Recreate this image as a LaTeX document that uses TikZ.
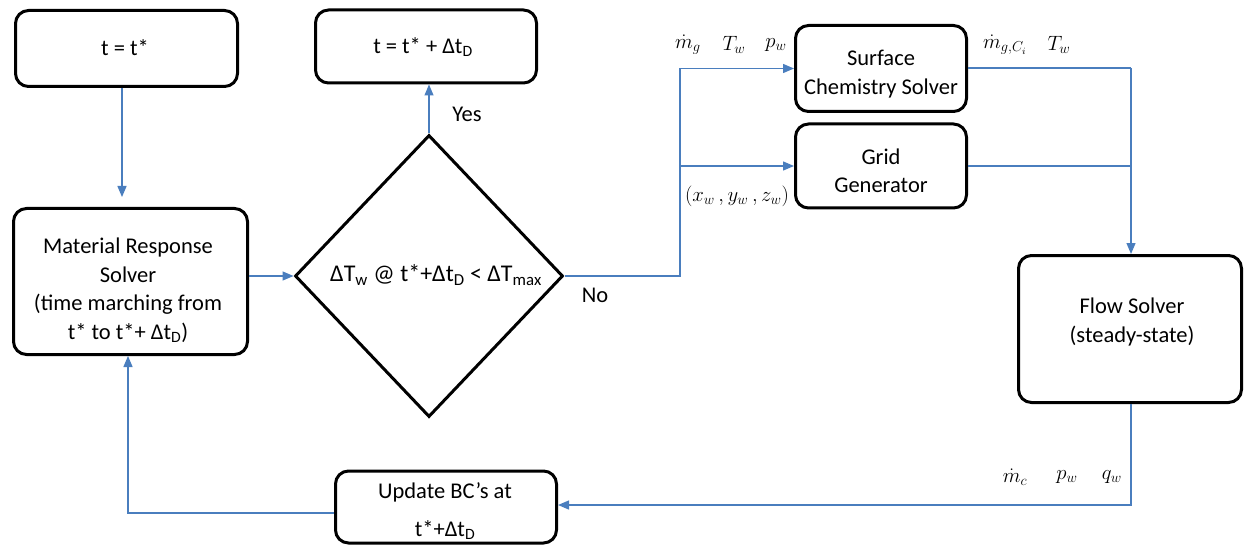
\documentclass[tikz,border=0pt]{standalone}
\usepackage{fontspec}
\setmainfont{Carlito}
\usetikzlibrary{shapes.geometric,arrows.meta}
\definecolor{lineblue}{RGB}{74,126,190}
\begin{document}
\begin{tikzpicture}[x=1pt,y=-1pt,
  box/.style={draw=black, line width=3pt, rounded corners=13pt, inner sep=0pt},
  txt/.style={align=center, inner sep=0pt, font=\fontsize{22.5}{28.5}\selectfont},
  conn/.style={draw=lineblue, line width=1.3pt, -{Triangle[length=11pt,width=9pt]}},
  plain/.style={draw=lineblue, line width=1.3pt},
  lab/.style={inner sep=0pt, scale=1.2, transform shape, font=\fontsize{17}{20}\selectfont}]
\useasboundingbox (0,0) rectangle (1246,545);

% boxes
\node[box, minimum width=222pt, minimum height=76pt] (A) at (126.5,48.5) {};
\node[txt] (At) at (125,48) {t = t*};

\node[box, minimum width=221pt, minimum height=73pt] (B) at (426,46.5) {};
\node[txt] (Bt) at (423,47) {t = t* + Δt\textsubscript{D}};

\node[box, minimum width=234pt, minimum height=146pt] (C) at (130.5,281.5) {};
\node[txt] (Ct) at (128,290) {Material Response\\Solver\\(time marching from\\t* to t*+ Δt\textsubscript{D})};

\node[draw=black, line width=3pt, diamond, minimum width=268pt, minimum height=282pt, inner sep=0pt] (D) at (429,276) {};
\node[txt, font=\fontsize{24}{28.5}\selectfont] (Dt) at (436,275) {ΔT\textsubscript{w} @ t*+Δt\textsubscript{D} < ΔT\textsubscript{max}};

\node[box, minimum width=171pt, minimum height=86pt] (S) at (881,68.5) {};
\node[txt] (St) at (881,74) {Surface\\Chemistry Solver};

\node[box, minimum width=171pt, minimum height=84pt] (G) at (881,166) {};
\node[txt] (Gt) at (881,171) {Grid\\Generator};

\node[box, minimum width=223pt, minimum height=147pt] (F) at (1130,329) {};
\node[txt] (Ft) at (1132,322) {Flow Solver\\(steady-state)};

\node[box, minimum width=221pt, minimum height=72pt] (U) at (446,507) {};
\node[txt] (Ut) at (445,511) {Update BC’s at\\[9pt]t*+Δt\textsubscript{D}};

% junction coordinates
\coordinate (j1) at (680,276);
\coordinate (j2) at (1131,68);
\coordinate (j3) at (1131,505);
\coordinate (j4) at (128,513);

% connectors
\draw[conn, shorten >=10pt] (A.south -| 122,0) -- (C.north -| 122,0);
\draw[conn] (C.east |- D.west) -- (D.west);
\draw[conn] (D.north) -- (D.north |- B.south);
\draw[conn] (D.east) -- (j1) |- (S.west);
\draw[conn] (j1 |- G.west) -- (G.west);
\draw[plain] (S.east |- j2) -- (j2);
\draw[conn] (j2) -- (j2 |- F.north);
\draw[plain] (G.east) -- (G.east -| j2);
\draw[conn] (F.south -| j3) -- (j3) -- (j3 -| U.east);
\draw[conn] (U.west |- j4) -- (j4) -- (j4 |- C.south);

% labels
\node[txt] (yes) at (467,114) {Yes};
\node[txt] (no) at (595,295) {No};
\node[lab] (l1) at (688,45) {$\dot m_g$};
\node[lab] (l2) at (734,45) {$T_w$};
\node[lab] (l3) at (776,45) {$p_w$};
\node[lab] (l4) at (737,196) {$(x_w\,,y_w\,,z_w)$};
\node[lab] (l5) at (1005,45) {$\dot m_{g,C_i}$};
\node[lab] (l6) at (1059,45) {$T_w$};
\node[lab] (l7) at (1015,477) {$\dot m_c$};
\node[lab] (l8) at (1067,477) {$p_w$};
\node[lab] (l9) at (1112,477) {$q_w$};
\end{tikzpicture}
\end{document}
